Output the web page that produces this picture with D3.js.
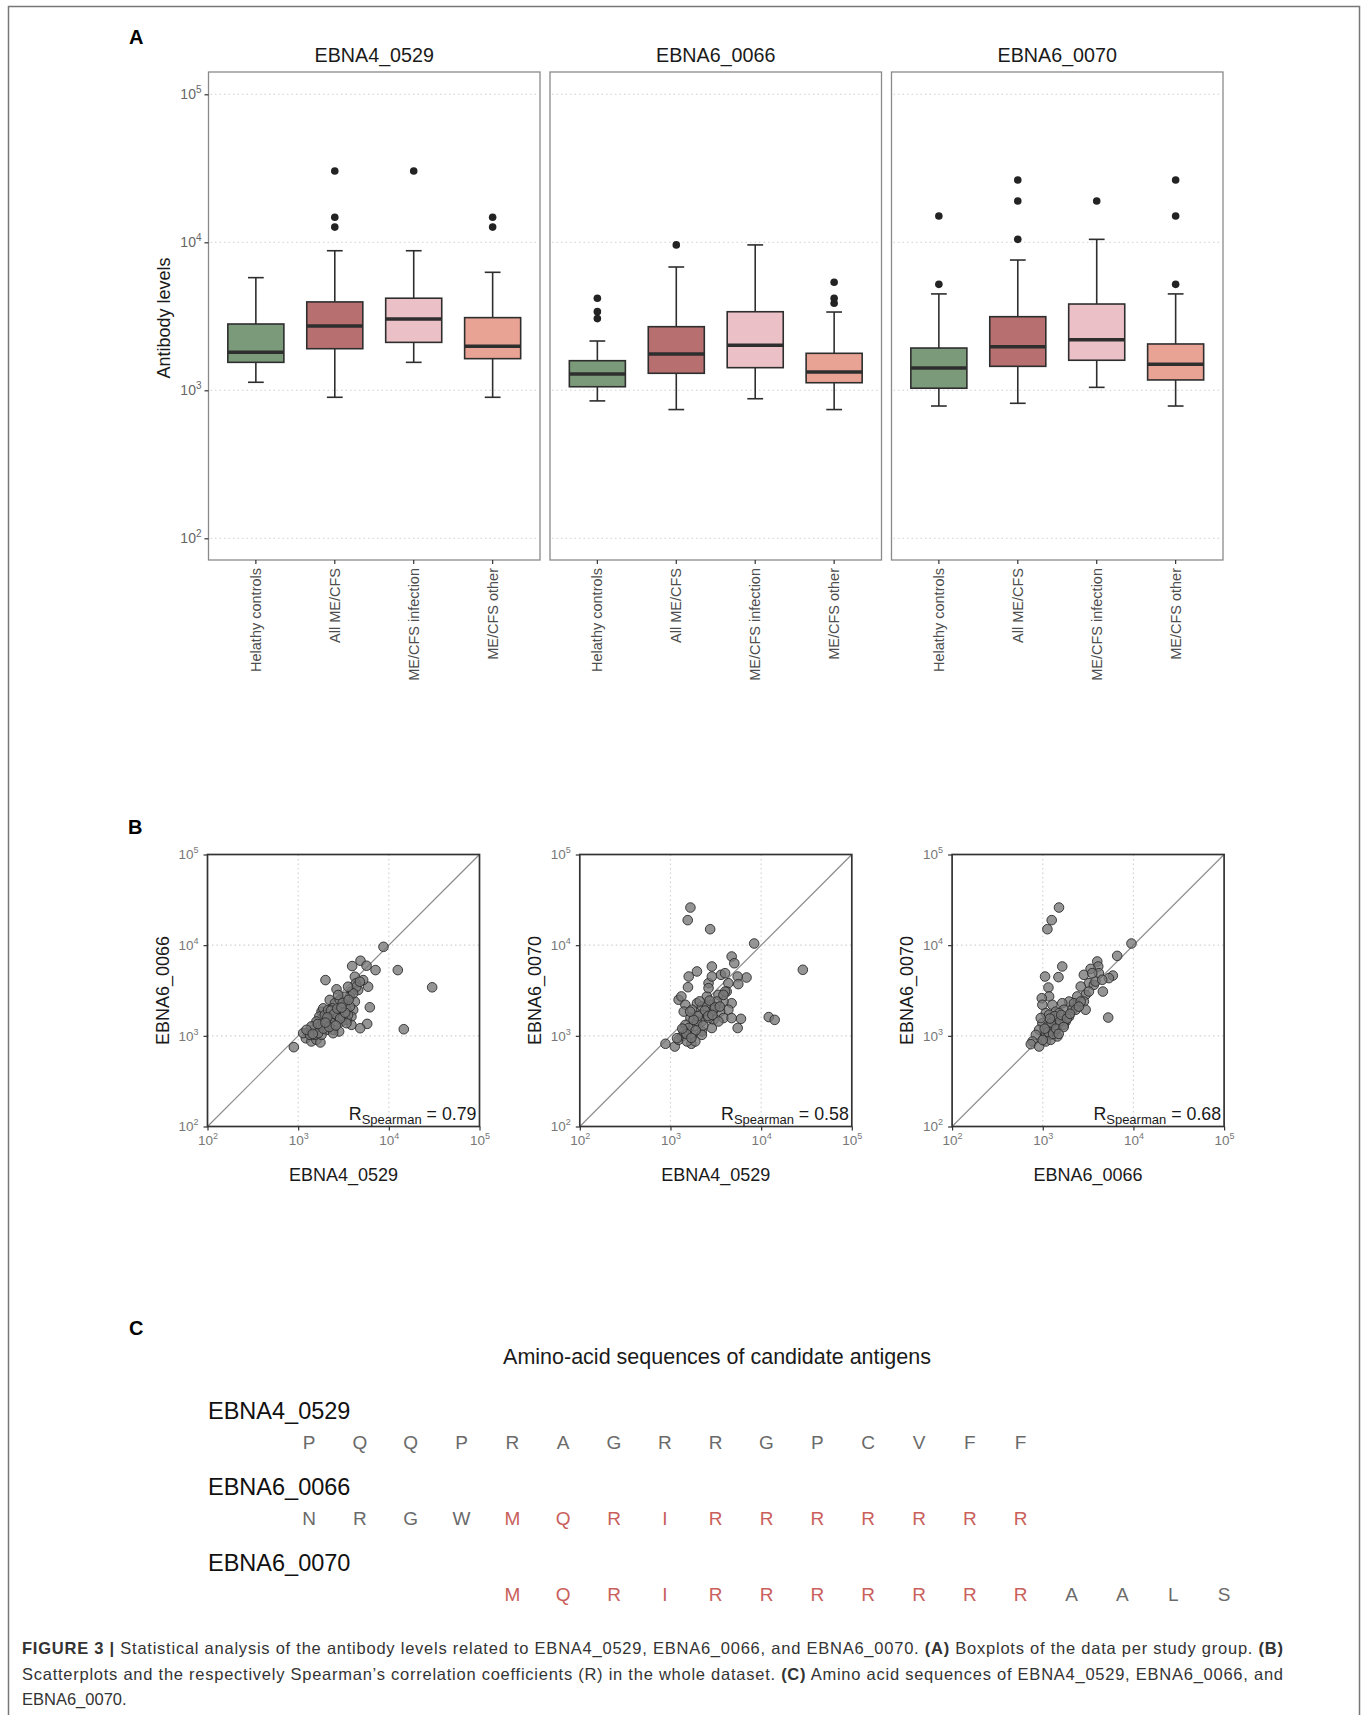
<!DOCTYPE html>
<html lang="en">
<head>
<meta charset="UTF-8">
<title>Figure 3</title>
<script src="https://cdn.jsdelivr.net/npm/d3@7"></script>
<style>
  body { margin: 0; background: #fff; }
  svg { display: block; font-family: "Liberation Sans", Arial, sans-serif; }
</style>
</head>
<body>
<svg id="fig"></svg>
<script>
// ---- data ----
const groups = ["Helathy controls", "All ME/CFS", "ME/CFS infection", "ME/CFS other"];
const antigens = ["EBNA4_0529", "EBNA6_0066", "EBNA6_0070"];
const groupColors = ["#7b9a79", "#b86f70", "#ebc0c6", "#e9a394"];
const decades = [1e2, 1e3, 1e4, 1e5];

// [lower whisker, Q1, median, Q3, upper whisker] per group
const box0529 = [[1133, 1545, 1807, 2805, 5770], [897, 1910, 2718, 3955, 8770], [1545, 2108, 3035, 4190, 8770], [897, 1636, 1983, 3097, 6270]];
const box0066 = [[848, 1057, 1288, 1585, 2153], [741, 1303, 1757, 2690, 6810], [877, 1422, 2012, 3395, 9600], [741, 1125, 1330, 1778, 3380]];
const box0070 = [[783, 1033, 1415, 1930, 4480], [817, 1452, 1972, 3143, 7590], [1047, 1596, 2198, 3828, 10470], [783, 1175, 1500, 2056, 4480]];
const out0529 = [[], [30300, 14760, 12670], [30300], [14760, 12670]];
const out0066 = [[4190, 3400, 3050], [9600], [], [5370, 4190, 3870]];
const out0070 = [[15070, 5200], [26360, 19000, 10470], [19000], [26360, 15070, 5200]];

// scatter pairs [x, y]
const sc0529vs0066 = [[8730,9590],[3940,5880],[4870,6730],[5680,5930],[7130,5310],[12560,5310],[30060,3430],[2000,4120],[2650,3260],[5910,3480],[6170,2065],[14620,1183],[5770,1355],[4830,1213],[896,750],[4220,4490],[5210,4120],[4320,3790],[4590,3200],[3870,3070],[3720,2700],[4220,2380],[4040,1930],[3870,1630],[3870,1321],[3410,1500],[3010,1440],[2830,1117],[2430,1165],[2230,2490],[2540,2290],[2880,2490],[3270,2190],[3410,1930],[3010,1780],[2650,1850],[2330,1630],[2060,1500],[1810,1850],[1890,2010],[1710,1630],[1590,1440],[1730,1270],[1460,1165],[1290,1070],[1215,940],[1400,867],[1590,905],[1760,845],[1530,1025],[1135,1070],[2060,1165],[2230,1321],[2540,1440],[2760,1630],[3130,1630],[3550,1700],[4390,3480],[4040,2940],[3270,2700],[2760,2820],[2390,2010],[1970,1700],[1890,1380],[1400,1270],[1350,1025],[1810,1025],[2430,1070],[3410,1380],[3720,2100],[4790,3950],[3550,3480],[2140,1930],[1660,1070],[1235,1165],[2300,1900],[2500,1750],[2700,2000],[3100,2300],[2900,1550],[2100,1600],[1900,1200],[2200,1250],[2600,1300],[3300,1800],[3600,2500],[1650,1350],[1450,1050],[2000,1400],[3000,2050]];
const sc0529vs0070 = [[1660,26000],[1550,18880],[2740,15000],[8380,10430],[28840,5350],[4730,7500],[5060,6320],[2860,5820],[1960,5130],[1590,4510],[1560,3440],[6900,4400],[5510,4510],[5600,3720],[4350,3810],[3610,4710],[2630,3810],[2860,4510],[4000,4910],[1230,2500],[1320,2720],[12140,1610],[14110,1500],[5990,1540],[5510,1220],[881,817],[1115,762],[1700,817],[4730,2290],[4170,3080],[3380,2830],[2520,2720],[1960,2290],[1460,2200],[1400,1850],[1730,1940],[2220,2110],[2860,2200],[3840,2390],[4350,1940],[3530,1850],[2740,1780],[2130,1710],[1660,1570],[1460,1320],[1800,1270],[2220,1440],[2980,1500],[3840,1570],[2860,1220],[2220,1117],[1730,1025],[1340,985],[1230,904],[1520,867],[2220,1025],[3380,1440],[4000,3080],[2630,3360],[3240,2390],[1960,1440],[1590,1220],[2520,2110],[1880,867],[1400,1117],[2980,1940],[3840,2830],[2630,1570],[1180,942],[4730,1570],[2400,1900],[2000,1650],[2700,2450],[3100,2050],[1800,1500],[2300,1300],[1500,1050],[1900,1150],[2600,1650],[3500,2100],[1650,1850],[2100,2400],[2900,1700],[1350,1200],[1700,950]];
const sc0066vs0070 = [[1510,26000],[1255,18880],[1125,15000],[9510,10430],[6620,7620],[1640,5820],[1060,4510],[1490,4440],[1155,3410],[5270,1590],[3990,6610],[4090,5820],[3370,5480],[5930,4620],[5360,4330],[4600,3080],[4160,4910],[2840,4710],[3230,3810],[2620,3500],[3660,3650],[2970,2830],[2400,2720],[2840,2390],[2970,1940],[2310,2200],[1950,2390],[1640,2290],[1175,2720],[975,2600],[990,2200],[1276,2200],[1080,1780],[1390,1850],[1710,1940],[2120,1940],[1950,1630],[1580,1570],[1276,1500],[990,1380],[1175,1270],[1450,1320],[1790,1440],[912,1165],[838,1025],[770,867],[738,809],[912,762],[1035,942],[1224,1025],[1080,1070],[1390,1117],[1330,1220],[2210,2290],[2620,2390],[3230,3080],[3820,3970],[4530,4150],[1510,1780],[1175,1710],[950,1570],[2310,1940],[1710,1320],[1080,867],[1224,904],[3510,4910],[1125,1270],[1450,985],[1250,1400],[1350,1650],[1550,1450],[1150,1100],[1300,1050],[1600,1700],[1850,1550],[1400,1200],[1700,1250],[1050,1200],[1200,1550],[2000,1750],[2500,2100],[1500,1050],[1000,900]];
const scatterX = ["EBNA4_0529", "EBNA4_0529", "EBNA6_0066"];
const scatterY = ["EBNA6_0066", "EBNA6_0070", "EBNA6_0070"];
const spearman = ["0.79", "0.58", "0.68"];

// amino-acid rows: start column, letters, highlighted range [from, to)
const seqNames = ["EBNA4_0529", "EBNA6_0066", "EBNA6_0070"];
const seqStart = [0, 0, 4];
const seqLetters = ["PQQPRAGRRGPCVFF", "NRGWMQRIRRRRRRR", "MQRIRRRRRRRAALS"];
const seqRed = [[0, 0], [4, 15], [0, 11]];

// ---- setup ----
const W = 1362, H = 1715;
const svg = d3.select("#fig").attr("width", W).attr("height", H);

svg.append("rect").attr("x", 8.5).attr("y", 6.5).attr("width", 1351).attr("height", 1760)
  .attr("fill", "none").attr("stroke", "#777").attr("stroke-width", 1.5);

function pow10(sel, sup, dy) {
  sel.each(function (d) {
    const t = d3.select(this).text(null);
    t.append("tspan").text("10");
    t.append("tspan").attr("font-size", sup).attr("dy", dy).text(Math.round(Math.log10(d)));
  });
}

function panelLabel(txt, x, y) {
  svg.append("text").attr("x", x).attr("y", y).attr("font-size", 20).attr("font-weight", "bold")
    .attr("fill", "#000").text(txt);
}

// ---- A: boxplots ----
panelLabel("A", 129, 44);
const boxes = [box0529, box0066, box0070];
const outs = [out0529, out0066, out0070];
const aTop = 72, aBot = 560, aLeft = 208.5, aStep = 341.5, aW = 331.5;
const yA = d3.scaleLog().domain([1e2, 1e5]).range([538.3, 94.3]);

antigens.forEach((ag, i) => {
  const g = svg.append("g").attr("transform", `translate(${aLeft + i * aStep},0)`);
  const x = d3.scalePoint().domain(groups).range([0, aW]).padding(0.6);
  const bw = x.step() * 0.71, cw = x.step() * 0.2;

  g.selectAll(".grid").data(decades).join("line")
    .attr("x1", 2).attr("x2", aW - 2).attr("y1", d => yA(d)).attr("y2", d => yA(d))
    .attr("stroke", "#cfcfcf").attr("stroke-width", 1.1).attr("stroke-dasharray", "1.5,3");

  g.append("rect").attr("x", 0).attr("y", aTop).attr("width", aW).attr("height", aBot - aTop)
    .attr("fill", "none").attr("stroke", "#8a8a8a").attr("stroke-width", 1.3);

  g.append("text").attr("x", aW / 2).attr("y", 62).attr("text-anchor", "middle")
    .attr("font-size", 19.7).attr("fill", "#1a1a1a").text(ag);

  boxes[i].forEach((s, j) => {
    const cx = x(groups[j]);
    const [lo, q1, med, q3, hi] = s;
    const bg = g.append("g").attr("stroke", "#2e2e2e").attr("stroke-width", 1.6);
    bg.append("line").attr("x1", cx).attr("x2", cx).attr("y1", yA(hi)).attr("y2", yA(q3));
    bg.append("line").attr("x1", cx).attr("x2", cx).attr("y1", yA(q1)).attr("y2", yA(lo));
    bg.append("line").attr("x1", cx - cw / 2).attr("x2", cx + cw / 2).attr("y1", yA(hi)).attr("y2", yA(hi));
    bg.append("line").attr("x1", cx - cw / 2).attr("x2", cx + cw / 2).attr("y1", yA(lo)).attr("y2", yA(lo));
    bg.append("rect").attr("x", cx - bw / 2).attr("y", yA(q3)).attr("width", bw).attr("height", yA(q1) - yA(q3))
      .attr("fill", groupColors[j]);
    bg.append("line").attr("x1", cx - bw / 2).attr("x2", cx + bw / 2).attr("y1", yA(med)).attr("y2", yA(med))
      .attr("stroke-width", 3.5);
    g.selectAll(null).data(outs[i][j]).join("circle")
      .attr("cx", cx).attr("cy", d => yA(d)).attr("r", 3.8).attr("fill", "#232323");
  });

  // x axis (rotated group names)
  g.selectAll(".xt").data(groups).join("line")
    .attr("x1", d => x(d)).attr("x2", d => x(d)).attr("y1", aBot).attr("y2", aBot + 4)
    .attr("stroke", "#333").attr("stroke-width", 1.2);
  g.selectAll(".xl").data(groups).join("text")
    .attr("transform", d => `translate(${x(d) + 5},568) rotate(-90)`)
    .attr("text-anchor", "end").attr("font-size", 14.5).attr("fill", "#4d4d4d").text(d => d);
});

const yAxisA = svg.append("g").attr("transform", `translate(${aLeft},0)`)
  .call(d3.axisLeft(yA).tickValues(decades).tickSize(4).tickPadding(3));
yAxisA.select(".domain").remove();
yAxisA.selectAll(".tick line").attr("stroke", "#333").attr("stroke-width", 1.2);
yAxisA.selectAll(".tick text").attr("font-size", 14).attr("fill", "#666")
  .attr("font-family", "'Liberation Sans', Arial, sans-serif").call(pow10, 10, -6);

svg.append("text").attr("transform", "translate(170,318) rotate(-90)").attr("text-anchor", "middle")
  .attr("font-size", 18).attr("fill", "#1a1a1a").text("Antibody levels");

// ---- B: scatterplots ----
panelLabel("B", 128, 834);
const scatters = [sc0529vs0066, sc0529vs0070, sc0066vs0070];
const bTop = 854.5, bSize = 272, bLeft = 207.5, bStep = 372.3;
const xS = d3.scaleLog().domain([1e2, 1e5]).range([0, bSize]);
const yS = d3.scaleLog().domain([1e2, 1e5]).range([bSize, 0]);

scatters.forEach((pts, i) => {
  const g = svg.append("g").attr("transform", `translate(${bLeft + i * bStep},${bTop})`);
  g.selectAll(".gx").data([1e3, 1e4]).join("line")
    .attr("x1", d => xS(d)).attr("x2", d => xS(d)).attr("y1", 0).attr("y2", bSize)
    .attr("stroke", "#cfcfcf").attr("stroke-width", 1.1).attr("stroke-dasharray", "1.5,3");
  g.selectAll(".gy").data([1e3, 1e4]).join("line")
    .attr("y1", d => yS(d)).attr("y2", d => yS(d)).attr("x1", 0).attr("x2", bSize)
    .attr("stroke", "#cfcfcf").attr("stroke-width", 1.1).attr("stroke-dasharray", "1.5,3");
  g.append("line").attr("x1", xS(1e2)).attr("y1", yS(1e2)).attr("x2", xS(1e5)).attr("y2", yS(1e5))
    .attr("stroke", "#8c8c8c").attr("stroke-width", 1.2);

  g.selectAll("circle").data(pts).join("circle")
    .attr("cx", d => xS(d[0])).attr("cy", d => yS(d[1])).attr("r", 4.8)
    .attr("fill", "#777").attr("fill-opacity", 0.78).attr("stroke", "#2b2b2b").attr("stroke-width", 0.9);

  g.append("rect").attr("width", bSize).attr("height", bSize).attr("fill", "none")
    .attr("stroke", "#333").attr("stroke-width", 1.7);

  const ax = g.append("g").attr("transform", `translate(0,${bSize})`)
    .call(d3.axisBottom(xS).tickValues(decades).tickSize(4).tickPadding(5));
  const ay = g.append("g").call(d3.axisLeft(yS).tickValues(decades).tickSize(4).tickPadding(5));
  [ax, ay].forEach(a => {
    a.select(".domain").remove();
    a.selectAll(".tick line").attr("stroke", "#333").attr("stroke-width", 1.2);
    a.selectAll(".tick text").attr("font-size", 13.5).attr("fill", "#777")
      .attr("font-family", "'Liberation Sans', Arial, sans-serif").call(pow10, 9, -6);
  });

  g.append("text").attr("x", bSize / 2).attr("y", bSize + 54).attr("text-anchor", "middle")
    .attr("font-size", 18).attr("fill", "#1a1a1a").text(scatterX[i]);
  g.append("text").attr("transform", `translate(-39,${bSize / 2}) rotate(-90)`).attr("text-anchor", "middle")
    .attr("font-size", 18).attr("fill", "#1a1a1a").text(scatterY[i]);

  const r = g.append("text").attr("x", bSize - 3).attr("y", bSize - 7).attr("text-anchor", "end")
    .attr("font-size", 17.8).attr("fill", "#1a1a1a");
  r.append("tspan").text("R");
  r.append("tspan").attr("font-size", 13).attr("dy", 4).text("Spearman");
  r.append("tspan").attr("dy", -4).text(" = " + spearman[i]);
});

// ---- C: sequences ----
panelLabel("C", 129, 1335);
svg.append("text").attr("x", 717).attr("y", 1364).attr("text-anchor", "middle")
  .attr("font-size", 21.5).attr("fill", "#1a1a1a").text("Amino-acid sequences of candidate antigens");

const col = d3.scalePoint().domain(d3.range(19)).range([309, 1224]);
const rowY = d3.scalePoint().domain(d3.range(3)).range([1419, 1571]);

seqNames.forEach((nm, i) => {
  svg.append("text").attr("x", 208).attr("y", rowY(i)).attr("font-size", 23.5).attr("fill", "#111").text(nm);
  const letters = seqLetters[i].split("");
  svg.selectAll(null).data(letters).join("text")
    .attr("x", (d, k) => col(seqStart[i] + k)).attr("y", rowY(i) + 30).attr("text-anchor", "middle")
    .attr("font-size", 19)
    .attr("fill", (d, k) => (k >= seqRed[i][0] && k < seqRed[i][1]) ? "#c9605b" : "#6a6a6a")
    .text(d => d);
});

// ---- caption ----
const capLines = [
  [["FIGURE 3 | ", true], ["Statistical analysis of the antibody levels related to EBNA4_0529, EBNA6_0066, and EBNA6_0070. ", false], ["(A)", true], [" Boxplots of the data per study group. ", false], ["(B)", true]],
  [["Scatterplots and the respectively Spearman\u2019s correlation coefficients (R) in the whole dataset. ", false], ["(C)", true], [" Amino acid sequences of EBNA4_0529, EBNA6_0066, and", false]],
  [["EBNA6_0070.", false]]
];
capLines.forEach((parts, i) => {
  const t = svg.append("text").attr("x", 22).attr("y", 1654 + i * 25.5).attr("font-size", 16.5).attr("fill", "#333");
  parts.forEach(p => t.append("tspan").attr("font-weight", p[1] ? "bold" : "normal").text(p[0]));
  if (i < 2) t.attr("textLength", 1261).attr("lengthAdjust", "spacing");
});
</script>
</body>
</html>
